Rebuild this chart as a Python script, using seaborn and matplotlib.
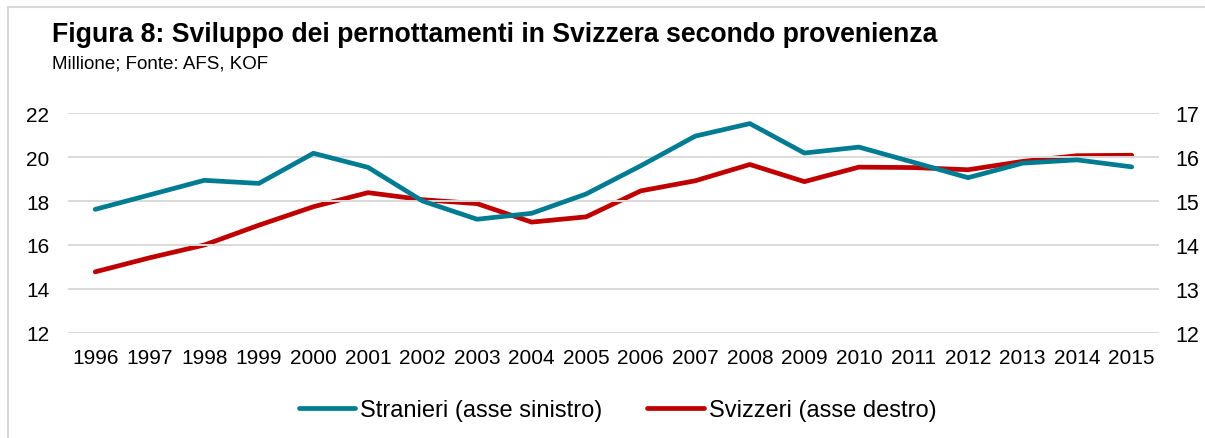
import pandas as pd
import seaborn as sns
import matplotlib.pyplot as plt
from matplotlib.patches import Rectangle

anni = [str(a) for a in range(1996, 2016)]
stranieri = [17.62, 18.28, 18.94, 18.80, 20.17, 19.53, 18.00, 17.17, 17.44, 18.32,
             19.60, 20.95, 21.52, 20.18, 20.45, 19.76, 19.06, 19.72, 19.87, 19.55]
svizzeri = [13.39, 13.71, 14.00, 14.45, 14.87, 15.19, 15.03, 14.94, 14.52, 14.64,
            15.23, 15.46, 15.83, 15.44, 15.77, 15.76, 15.71, 15.90, 16.03, 16.04]
ticks_sx = [12, 14, 16, 18, 20, 22]
ticks_dx = [12, 13, 14, 15, 16, 17]

teal = "#007C92"
rosso = "#C00000"
grigio = "#D9D9D9"

df = pd.DataFrame({"anno": anni, "Stranieri": stranieri, "Svizzeri": svizzeri})

sns.set_theme(style="white")
plt.rcParams["font.family"] = ["Liberation Sans", "DejaVu Sans"]
plt.rcParams["text.color"] = "black"

fig = plt.figure(figsize=(12.05, 4.39), dpi=100)
ax = fig.add_axes([0.0564, 0.2392, 0.9054, 0.5011])
ax2 = ax.twinx()

sns.lineplot(data=df, x="anno", y="Stranieri", ax=ax, color=teal, linewidth=3.4,
             label="Stranieri (asse sinistro)", legend=False, zorder=3)
sns.lineplot(data=df, x="anno", y="Svizzeri", ax=ax2, color=rosso, linewidth=3.4,
             label="Svizzeri (asse destro)", legend=False, zorder=3)
ax.set_zorder(ax2.get_zorder() + 1)
ax.patch.set_visible(False)

ax.set_ylim(12, 22)
ax.set_yticks(ticks_sx)
ax2.set_ylim(12, 17)
ax2.set_yticks(ticks_dx)
ax.set_xlim(-0.5, len(anni) - 0.5)
for a in (ax, ax2):
    a.set_xlabel("")
    a.set_ylabel("")
    for s in a.spines.values():
        s.set_visible(False)
ax.yaxis.grid(True, color=grigio, linewidth=1.4)
ax.set_axisbelow(True)
ax.tick_params(axis="y", length=0, pad=13.5, labelsize=15, colors="black")
ax.tick_params(axis="x", length=0, pad=10.5, labelsize=15, colors="black")
ax2.tick_params(axis="y", length=0, pad=11.5, labelsize=15.5, colors="black")

fig.text(0.043, 0.904, "Figura 8: Sviluppo dei pernottamenti in Svizzera secondo provenienza",
         fontsize=19.2, fontweight="bold", va="baseline", color="black")
fig.text(0.043, 0.845, "Millione; Fonte: AFS, KOF", fontsize=13.5, va="baseline",
         color="black")

h1, l1 = ax.get_legend_handles_labels()
h2, l2 = ax2.get_legend_handles_labels()
fig.legend(h1 + h2, l1 + l2, loc="center", bbox_to_anchor=(0.5125, 0.064), ncol=2,
           frameon=False, fontsize=17, handlelength=2.4, handletextpad=0.2,
           columnspacing=1.9)

fig.patches.append(Rectangle((8 / 1205, -0.05), 1.1, 1.05 - 8 / 439,
                             transform=fig.transFigure, fill=False,
                             edgecolor=grigio, linewidth=1.5))

fig.savefig("out.png", dpi=100)
